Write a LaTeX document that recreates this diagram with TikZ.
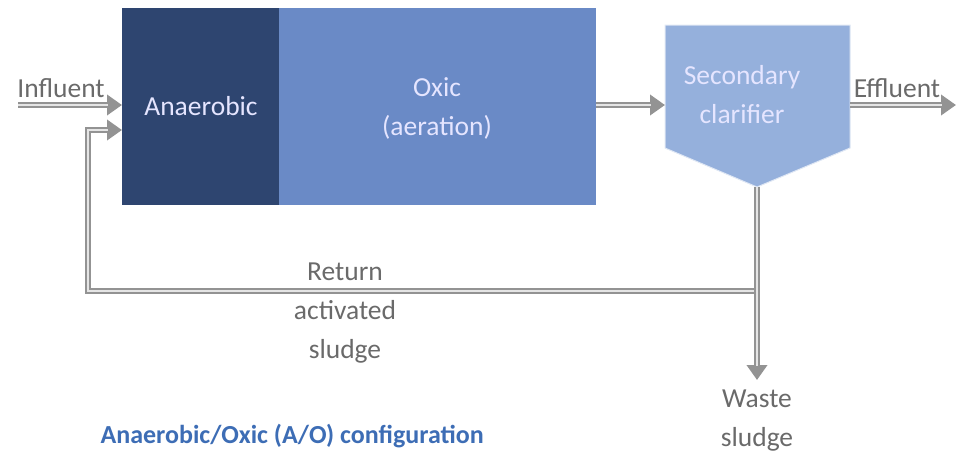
\documentclass[tikz,border=0pt]{standalone}
\usepackage{fontspec}
\setmainfont{Carlito}
\usetikzlibrary{arrows.meta}

\definecolor{anaerblue}{HTML}{2E4570}
\definecolor{oxicblue}{HTML}{6A8AC6}
\definecolor{clarblue}{HTML}{95B0DC}
\definecolor{labgray}{HTML}{6A6A6A}
\definecolor{titleblue}{HTML}{3D6DB5}

\begin{document}
\begin{tikzpicture}[x=1pt,y=-1pt,font=\fontsize{27.5}{39}\selectfont]
\tikzset{tank/.style={draw=none,inner sep=0,anchor=north west},
lab/.style={text=labgray,align=center},
intext/.style={text=white!90!blue,align=center},
flow/.style={draw=gray!85,line width=6pt,-{Triangle[length=15pt,width=20pt]},
postaction={draw=gray!20,line width=1.8pt,-,shorten >=14pt}}
}
\useasboundingbox (0,0) rectangle (957,456);

% Reactor basins
\node(anaer)[tank,fill=anaerblue,minimum width=157,minimum height=197] at (122,8){};
\node(oxic)[tank,fill=oxicblue,minimum width=317,minimum height=197] at (279,8){};
\node(anaertext)[intext] at (201,106) {Anaerobic};
\node(oxictext)[intext] at (437,108) {Oxic\\(aeration)};

% Clarifier
\coordinate(c1) at (665,25);
\coordinate(c2) at (850,25);
\coordinate(c3) at (850,148);
\coordinate(tip) at (757,187);
\coordinate(c5) at (665,148);
\draw[fill=clarblue,draw=white!70!clarblue,line width=1pt] (c1)--(c2)--(c3)--(tip)--(c5)--cycle;
\node(clar)[intext] at (742,95) {Secondary\\clarifier};

% Free ends
\coordinate(in) at (18,105);
\coordinate(out) at (956,105);
\coordinate(rl) at (88,130);
\coordinate(ret) at (757,291);
\coordinate(waste) at (757,380);

% Flows
\draw[flow] (in) -- (anaer.west |- in);
\draw[flow] (oxic.east |- in) -- (c1 |- in);
\draw[flow] (c2 |- in) -- (out);
\draw[flow] (ret) -| (rl) -- (anaer.west |- rl);
\draw[flow] (tip) -- (waste);

% Labels
\node(influent)[lab] at (61,88) {Influent};
\node(effluent)[lab] at (897,88) {Effluent};
\node(rasl)[lab] at (345,313) {Return\\activated\\sludge};
\node(wasl)[lab] at (757,421) {Waste\\sludge};
\node(title)[anchor=west,text=titleblue,font=\fontsize{26}{30}\selectfont\bfseries] at (97,436) {Anaerobic/Oxic (A/O) configuration};

\end{tikzpicture}
\end{document}
